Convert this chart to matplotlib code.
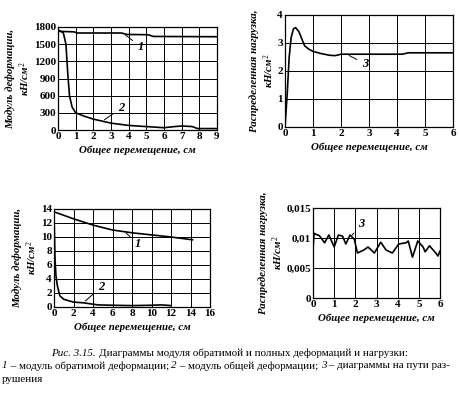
import matplotlib.pyplot as plt

plt.rcParams["font.family"] = ["Liberation Serif", "DejaVu Serif"]
plt.rcParams["mathtext.fontset"] = "custom"
plt.rcParams["mathtext.rm"] = "Liberation Serif"
plt.rcParams["mathtext.it"] = "Liberation Serif:italic"

# panel a: modulus vs displacement (cm), kN/cm2
a_x1 = [0, 0.9, 1.1, 3.6, 3.9, 5.1, 5.4, 9]
a_y1 = [1725, 1715, 1695, 1695, 1670, 1665, 1635, 1630]
a_x2 = [0, 0.3, 0.45, 0.55, 0.65, 0.8, 1.0, 1.5, 2, 3, 4, 5, 6, 6.6, 7, 7.6, 7.9, 9]
a_y2 = [1750, 1700, 1500, 1000, 600, 400, 300, 240, 190, 120, 80, 60, 40, 60, 70, 60, 25, 25]

# panel b: distributed load
b_x3 = [0, 0.08, 0.15, 0.22, 0.3, 0.38, 0.5, 0.6, 0.7, 0.85, 1.0, 1.3, 1.6, 1.8, 2.0, 3.0, 4.2, 4.4, 6]
b_y3 = [0, 1.2, 2.5, 3.2, 3.5, 3.55, 3.4, 3.15, 2.9, 2.78, 2.7, 2.62, 2.56, 2.55, 2.6, 2.6, 2.6, 2.65, 2.65]

# panel c
c_x1 = [0, 2, 4, 6, 8, 10, 12, 14.2]
c_y1 = [13.6, 12.6, 11.7, 11.0, 10.6, 10.3, 10.0, 9.6]
c_x2 = [0, 0.1, 0.2, 0.35, 0.6, 1.0, 1.5, 2, 3, 4.5, 6, 8, 10, 11, 12]
c_y2 = [13.2, 7.0, 4.5, 3.0, 1.6, 1.1, 0.9, 0.7, 0.6, 0.3, 0.25, 0.2, 0.25, 0.3, 0.2]

# panel d
d_x3 = [0, 0.05, 0.15, 0.3, 0.55, 0.75, 1.0, 1.2, 1.4, 1.55, 1.75, 1.95, 2.1, 2.4, 2.6,
        2.9, 3.2, 3.45, 3.75, 4.05, 4.4, 4.5, 4.7, 4.95, 5.2, 5.3, 5.5, 5.8, 5.9, 6.0]
d_y3 = [0.0080, 0.0108, 0.0106, 0.0104, 0.0092, 0.0105, 0.0085, 0.0105, 0.0103, 0.0090, 0.0105,
        0.0098, 0.0075, 0.0080, 0.0085, 0.0075, 0.0093, 0.0080, 0.0075, 0.0090, 0.0092, 0.0095,
        0.0068, 0.0095, 0.0085, 0.0077, 0.0087, 0.0075, 0.0070, 0.0078]

W, H = 459, 393
fig = plt.figure(figsize=(W / 100, H / 100), dpi=100)


def make_ax(l, t, r, b):
    return fig.add_axes([l / W, 1 - b / H, (r - l) / W, (b - t) / H])


tick_kw = dict(fontsize=8, fontweight="bold")
lab_kw = dict(fontsize=7.8, style="italic", fontweight="bold")
num_kw = dict(fontsize=9, style="italic", fontweight="bold")
xlab = "Общее перемещение, см"


def style(ax, xt, yt, ylabels=None):
    ax.set_xticks(xt)
    ax.set_yticks(yt)
    ax.set_xlim(xt[0], xt[-1])
    ax.set_ylim(yt[0], yt[-1])
    ax.set_xticklabels([str(v) for v in xt], **tick_kw)
    ax.set_yticklabels(ylabels or [str(v) for v in yt], **tick_kw)
    ax.grid(True, color="black", linewidth=0.7)
    ax.tick_params(length=0, pad=1.5)
    for s in ax.spines.values():
        s.set_linewidth(0.9)
    ax.set_xlabel(xlab, labelpad=3, **lab_kw)


ax1 = make_ax(58, 27, 217, 130)
ax1.plot(a_x1, a_y1, color="black", lw=1.2)
ax1.plot(a_x2, a_y2, color="black", lw=1.2)
style(ax1, list(range(10)), list(range(0, 1801, 300)))
ax1.set_ylabel("Модуль деформации,\nкН/см$^2$", labelpad=1, **lab_kw)
ax1.annotate("1", xy=(3.7, 1690), xytext=(4.5, 1400), arrowprops=dict(arrowstyle="-", lw=0.7), **num_kw)
ax1.annotate("2", xy=(2.5, 150), xytext=(3.4, 330), arrowprops=dict(arrowstyle="-", lw=0.7), **num_kw)

ax2 = make_ax(285, 15, 453, 127)
ax2.plot(b_x3, b_y3, color="black", lw=1.2)
style(ax2, list(range(7)), list(range(5)))
ax2.set_ylabel("Распределенная нагрузка,\nкН/см$^2$", labelpad=1, **lab_kw)
ax2.annotate("3", xy=(2.2, 2.6), xytext=(2.75, 2.15), arrowprops=dict(arrowstyle="-", lw=0.7), **num_kw)

ax3 = make_ax(54, 209, 210, 307)
ax3.plot(c_x1, c_y1, color="black", lw=1.2)
ax3.plot(c_x2, c_y2, color="black", lw=1.2)
style(ax3, list(range(0, 17, 2)), list(range(0, 15, 2)))
ax3.set_ylabel("Модуль деформации,\nкН/см$^2$", labelpad=1, **lab_kw)
ax3.annotate("1", xy=(7.2, 10.8), xytext=(8.3, 8.6), arrowprops=dict(arrowstyle="-", lw=0.7), **num_kw)
ax3.annotate("2", xy=(3, 0.6), xytext=(4.5, 2.4), arrowprops=dict(arrowstyle="-", lw=0.7), **num_kw)

ax4 = make_ax(313, 208, 440, 298)
ax4.plot(d_x3, d_y3, color="black", lw=1.2)
style(ax4, list(range(7)), [0, 0.005, 0.01, 0.015], ["0", "0,005", "0,01", "0,015"])
ax4.set_ylabel("Распределенная нагрузка,\nкН/см$^2$", labelpad=1, **lab_kw)
ax4.annotate("3", xy=(1.85, 0.0105), xytext=(2.15, 0.0118), arrowprops=dict(arrowstyle="-", lw=0.7), **num_kw)

# caption, written piece by piece so italic parts stay in the serif font
renderer = fig.canvas.get_renderer()


def text_width(s, size, fstyle):
    # measure with a guard character so that trailing spaces count
    t = fig.text(0, 0, s + "|", fontsize=size, style=fstyle)
    g = fig.text(0, 0, "|", fontsize=size, style=fstyle)
    w = t.get_window_extent(renderer).width - g.get_window_extent(renderer).width
    t.remove()
    g.remove()
    return w


def caption_line(parts, y, x0=None, center=False, size=7.9):
    texts = []
    x = 0
    for s, italic in parts:
        fstyle = "italic" if italic else "normal"
        t = fig.text(0, 1 - y / H, s, fontsize=size, va="center", style=fstyle)
        texts.append((t, x))
        x += text_width(s, size, fstyle)
    start = (W - x) / 2 if center else x0
    for t, off in texts:
        t.set_x((start + off) / W)


caption_line([("Рис. 3.15. ", True),
              ("Диаграммы модуля обратимой и полных деформаций и нагрузки:", False)],
             353, center=True)
caption_line([("1", True), (" – модуль обратимой деформации; ", False),
              ("2", True), (" – модуль общей деформации; ", False),
              ("3", True), (" – диаграммы на пути раз-", False)], 366, x0=2)
caption_line([("рушения", False)], 380, x0=2)

fig.savefig("out.png", dpi=100)
